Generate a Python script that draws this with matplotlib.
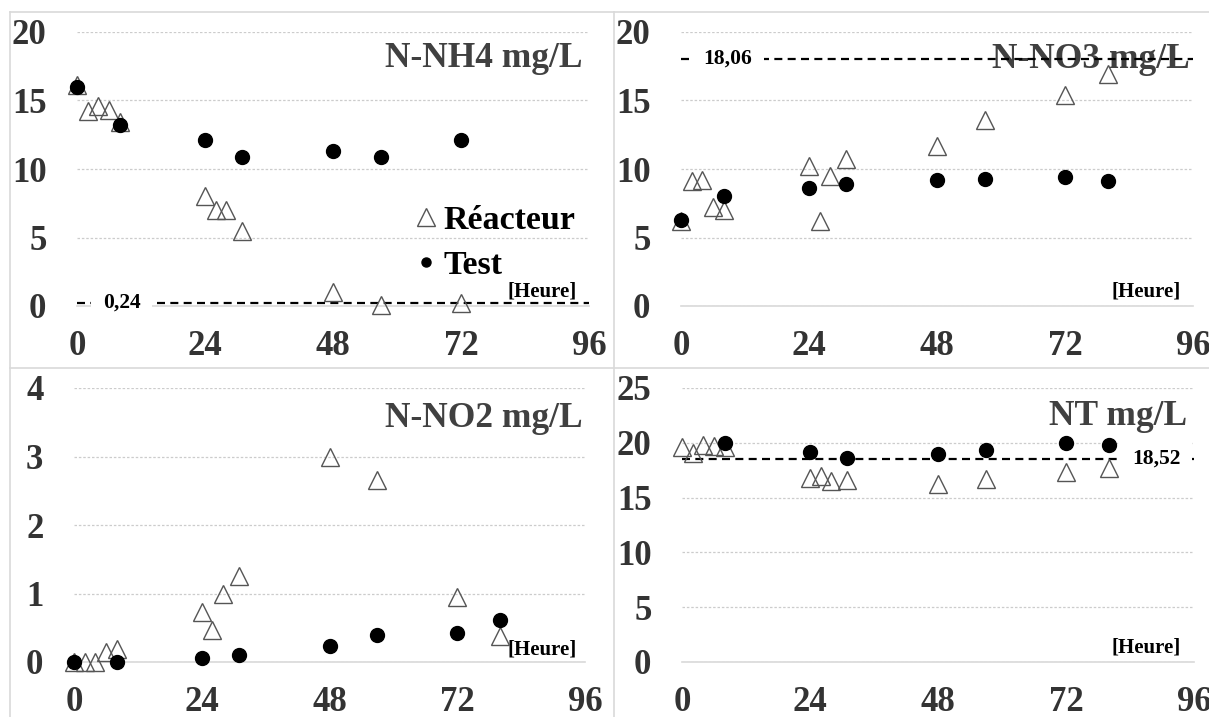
import matplotlib
matplotlib.use('Agg')
import matplotlib.pyplot as plt
from matplotlib.lines import Line2D

plt.rcParams['font.family'] = ['Liberation Serif', 'DejaVu Serif']
plt.rcParams['font.weight'] = 'bold'

# temps de prelevement [Heure]
t_reac = [0, 2, 4, 6, 8, 24, 26, 28, 31, 48, 57, 72, 80]
t_test = [0, 8, 24, 31, 48, 57, 72, 80]

# N-NH4 mg/L
nh4_t_reac = t_reac[:-1]
nh4_reac = [16.1, 14.2, 14.6, 14.3, 13.4, 8.0, 7.0, 7.0, 5.5, 1.0, 0.1, 0.2]
nh4_t_test = t_test[:-1]
nh4_test = [16.0, 13.2, 12.1, 10.9, 11.3, 10.9, 12.1]
nh4_ref = 0.24

# N-NO3 mg/L
no3_reac = [6.2, 9.1, 9.2, 7.2, 7.0, 10.2, 6.2, 9.5, 10.7, 11.7, 13.6, 15.4, 16.9]
no3_test = [6.3, 8.0, 8.6, 8.9, 9.2, 9.3, 9.4, 9.1]
no3_ref = 18.06

# N-NO2 mg/L
no2_reac = [0, 0, 0, 0.15, 0.19, 0.73, 0.46, 1.0, 1.26, 3.0, 2.65, 0.95, 0.38]
no2_test = [0, 0, 0.06, 0.1, 0.23, 0.4, 0.43, 0.62]

# NT mg/L
nt_reac = [19.6, 19.1, 19.8, 19.7, 19.6, 16.8, 17.0, 16.5, 16.6, 16.2, 16.7, 17.3, 17.7]
nt_t_test = t_test[1:]
nt_test = [20.0, 19.2, 18.6, 19.0, 19.3, 20.0, 19.8]
nt_ref = 18.52

x_ticks = [0, 24, 48, 72, 96]

W, H = 1209, 717
fig = plt.figure(figsize=(W / 100, H / 100), dpi=100)


def px_rect(x0, x1, ytop, ybot):
    return [x0 / W, 1 - ybot / H, (x1 - x0) / W, (ybot - ytop) / H]


# cadres des graphiques
grey = '#d9d9d9'
for xs, ys in [([10, W], [12, 12]), ([10, W], [368, 368]),
               ([10, 10], [12, H]), ([614, 614], [12, H])]:
    fig.add_artist(Line2D([x / W for x in xs], [1 - y / H for y in ys],
                          transform=fig.transFigure, color=grey, lw=1.2))

panels = [
    # rect, ylim, yticks, title, title pos, heure pos, reac, test, ref line
    (px_rect(77, 589, 32, 306), 20, [0, 5, 10, 15, 20], 'N-NH4 mg/L', (0.988, 0.873), (0.977, 0.036),
     (nh4_t_reac, nh4_reac), (nh4_t_test, nh4_test), (nh4_ref, 8.4)),
    (px_rect(681, 1193, 32, 306), 20, [0, 5, 10, 15, 20], 'N-NO3 mg/L', (0.994, 0.869), (0.977, 0.036),
     (t_reac, no3_reac), (t_test, no3_test), (no3_ref, 8.8)),
    (px_rect(74, 585, 388, 662), 4, [0, 1, 2, 3, 4], 'N-NO2 mg/L', (0.996, 0.858), (0.984, 0.026),
     (t_reac, no2_reac), (t_test, no2_test), None),
    (px_rect(682, 1194, 388, 662), 25, [0, 5, 10, 15, 20, 25], 'NT mg/L', (0.986, 0.865), (0.975, 0.033),
     (t_reac, nt_reac), (nt_t_test, nt_test), (nt_ref, 88.9)),
]

tick_col = '#333333'
axes = []
for rect, ymax, yticks, title, tpos, hpos, reac, test, ref in panels:
    ax = fig.add_axes(rect)
    axes.append(ax)
    ax.set_xlim(0, 96)
    ax.set_ylim(0, ymax)
    ax.set_xticks(x_ticks)
    ax.set_yticks(yticks)
    ax.tick_params(length=0, labelsize=25, labelcolor=tick_col)
    ax.tick_params(axis='y', pad=22)
    ax.tick_params(axis='x', pad=17)
    for s in ['top', 'left', 'right']:
        ax.spines[s].set_visible(False)
    ax.spines['bottom'].set_color(grey)
    ax.spines['bottom'].set_linewidth(1.2)
    ax.grid(axis='y', color='#cccccc', lw=0.9, ls=(0, (2, 1.5)))
    ax.set_axisbelow(True)

    ax.text(tpos[0], tpos[1], title, transform=ax.transAxes, ha='right', va='baseline',
            fontsize=25.5, color='#404040', zorder=1.5)
    ax.text(hpos[0], hpos[1], '[Heure]', transform=ax.transAxes, ha='right', va='baseline',
            fontsize=15, color='black', zorder=4)

    if ref is not None:
        val, xlab = ref
        ax.axhline(val, color='black', lw=1.6, ls=(0, (3.6, 2.4)), zorder=2)
        ax.text(xlab, val, f'{val:.2f}'.replace('.', ','), ha='center', va='center',
                fontsize=15.5, color='black', zorder=3,
                bbox=dict(boxstyle='square,pad=0.55', fc='white', ec='none'))

    ax.plot(reac[0], reac[1], ls='none', marker='^', ms=13.5, mfc='none', mec='#555555',
            mew=1.0, zorder=5, clip_on=False, label='Réacteur')
    ax.plot(test[0], test[1], ls='none', marker='o', ms=10, color='black',
            zorder=6, clip_on=False, label='Test')

handles = [Line2D([], [], ls='none', marker='^', ms=13.5, mfc='none', mec='#555555', mew=1.0),
           Line2D([], [], ls='none', marker='o', ms=6.5, color='black')]
axes[0].legend(handles, ['Réacteur', 'Test'], loc='upper left', bbox_to_anchor=(0.662, 0.37),
               frameon=False, fontsize=24.5, handlelength=0.6, handletextpad=0.2,
               borderpad=0, borderaxespad=0, labelspacing=0.42)

fig.savefig('out.png', dpi=100)
